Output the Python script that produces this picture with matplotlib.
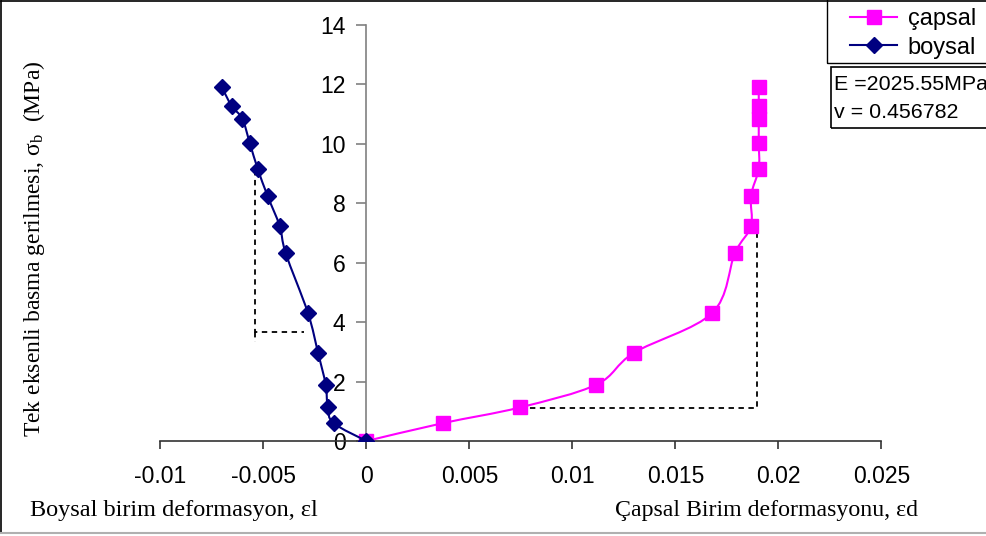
import numpy as np
import matplotlib
matplotlib.use("Agg")
import matplotlib.pyplot as plt
from matplotlib.path import Path
from matplotlib.patches import PathPatch, Rectangle
from matplotlib.lines import Line2D

plt.rcParams['font.family'] = ['Liberation Sans', 'DejaVu Sans']
plt.rcParams['mathtext.fontset'] = 'custom'
plt.rcParams['mathtext.rm'] = 'Liberation Serif'
plt.rcParams['mathtext.it'] = 'Liberation Serif:italic'

# uniaxial compressive stress (MPa), shared by both strain series
stress = [0, 0.6, 1.13, 1.9, 2.97, 4.31, 6.32, 7.23, 8.25, 9.16, 10.02, 10.85, 11.27, 11.92]
# lateral strain (çapsal)
eps_d = [0, 0.0037, 0.00745, 0.01117, 0.01299, 0.01679, 0.01789, 0.01867, 0.01867,
         0.01905, 0.01905, 0.01905, 0.01905, 0.01905]
# axial strain (boysal)
eps_l = [0, -0.00159, -0.00188, -0.00198, -0.00235, -0.00284, -0.00392, -0.00421,
         -0.0048, -0.00528, -0.00566, -0.00603, -0.00654, -0.00703]

# dashed slope guides
guide_l_x = [-0.00540, -0.00540, -0.00303]
guide_l_y = [9.12, 3.68, 3.68]
guide_l_tail_y = [3.68, 3.34]
guide_d_x = [0.00745, 0.01897, 0.01897]
guide_d_y = [1.11, 1.11, 7.27]

E_text = "E =2025.55MPa"
nu_text = "v = 0.456782"

W, H = 987.0, 536.0


def smooth_path(xs, ys):
    # Catmull-Rom through the points, written as cubic Bezier segments
    p = np.column_stack([xs, ys]).astype(float)
    ext = np.vstack([p[0], p, p[-1]])
    verts = [p[0]]
    codes = [Path.MOVETO]
    for i in range(1, len(ext) - 2):
        p0, p1, p2, p3 = ext[i - 1], ext[i], ext[i + 1], ext[i + 2]
        c1 = p1 + (p2 - p0) / 6.0
        c2 = p2 - (p3 - p1) / 6.0
        verts += [c1, c2, p2]
        codes += [Path.CURVE4] * 3
    return Path(verts, codes)


fig = plt.figure(figsize=(9.87, 5.36), dpi=100)
ax = fig.add_axes([0.1626, 0.1772, 0.7303, 0.7761])

mag = '#FF00FF'
navy = '#000080'

ax.add_patch(PathPatch(smooth_path(eps_d, stress), fill=False, edgecolor=mag, lw=1.5, zorder=3))
ax.plot(eps_d, stress, linestyle='none', marker='s', markersize=10, color=mag, zorder=4)
ax.add_patch(PathPatch(smooth_path(eps_l, stress), fill=False, edgecolor=navy, lw=1.5, zorder=5))
ax.plot(eps_l, stress, linestyle='none', marker='D', markersize=8, color=navy, zorder=6)

dash = (0, (3, 2.5))
ax.plot(guide_l_x, guide_l_y, color='black', lw=1.3, linestyle=dash, zorder=2)
ax.plot([guide_l_x[0], guide_l_x[0]], guide_l_tail_y, color='black', lw=1.3, linestyle=dash, zorder=2)
ax.plot(guide_d_x, guide_d_y, color='black', lw=1.3, linestyle=dash, zorder=2)

ax.set_xlim(-0.01, 0.025)
ax.set_ylim(0, 14)
ax.set_xticks([-0.01, -0.005, 0, 0.005, 0.01, 0.015, 0.02, 0.025])
ax.set_xticklabels(['-0.01', '-0.005', '0', '0.005', '0.01', '0.015', '0.02', '0.025'])
ax.set_yticks(range(0, 15, 2))

ax.spines['top'].set_visible(False)
ax.spines['right'].set_visible(False)
ax.spines['left'].set_position(('data', 0))
ax.spines['left'].set_color('#808080')
ax.spines['bottom'].set_color('#333333')
ax.spines['left'].set_linewidth(1.2)
ax.spines['bottom'].set_linewidth(1.2)
ax.tick_params(axis='x', direction='out', length=6, width=1.2, pad=11, labelsize=16.5, color='#333333')
ax.tick_params(axis='y', direction='out', length=7, width=1.2, pad=8, labelsize=16.5, color='#808080')
ax.patch.set_visible(False)

serif = ['Liberation Serif', 'DejaVu Serif']
fig.text(0.034, 0.536, r'Tek eksenli basma gerilmesi, σ$_{\rm b}$  (MPa)', rotation=90,
         ha='center', va='center', fontsize=17, family=serif)
fig.text(0.030, 0.048, 'Boysal birim deformasyon, εl', ha='left', va='center',
         fontsize=17.5, family=serif)
fig.text(0.623, 0.048, 'Çapsal Birim deformasyonu, εd', ha='left', va='center',
         fontsize=17.2, family=serif)

# legend box in the top right corner
handles = [Line2D([], [], color=mag, lw=1.5, marker='s', markersize=10),
           Line2D([], [], color=navy, lw=1.5, marker='D', markersize=8)]
fig.legend(handles, ['çapsal', 'boysal'], loc='upper left',
           bbox_to_anchor=(850 / W, 1 - 8 / H), bbox_transform=fig.transFigure,
           borderaxespad=0, borderpad=0, fontsize=17, frameon=False,
           handlelength=2.0, handletextpad=0.45, labelspacing=0.28)
fig.patches.append(Rectangle((827 / W, 1 - 63 / H), 0.2, 63 / H + 0.01, transform=fig.transFigure,
                             fill=False, edgecolor='black', lw=1.0))

# elastic constants box
fig.patches.append(Rectangle((831 / W, 1 - 128 / H), 0.2, 61 / H, transform=fig.transFigure,
                             fill=False, edgecolor='black', lw=1.2))
fig.text(834 / W, 1 - 85 / H, E_text, ha='left', va='center', fontsize=15.4)
fig.text(834 / W, 1 - 113 / H, nu_text, ha='left', va='center', fontsize=15.4)

# chart frame edges
fig.add_artist(Line2D([0.001, 0.001], [0.005, 0.998], transform=fig.transFigure, color='black', lw=1.2))
fig.add_artist(Line2D([0.001, 1], [0.998, 0.998], transform=fig.transFigure, color='black', lw=1.2))
fig.add_artist(Line2D([0.001, 1], [0.005, 0.005], transform=fig.transFigure, color='#b0b0b0', lw=1.5))

fig.savefig('out.png', dpi=100)
